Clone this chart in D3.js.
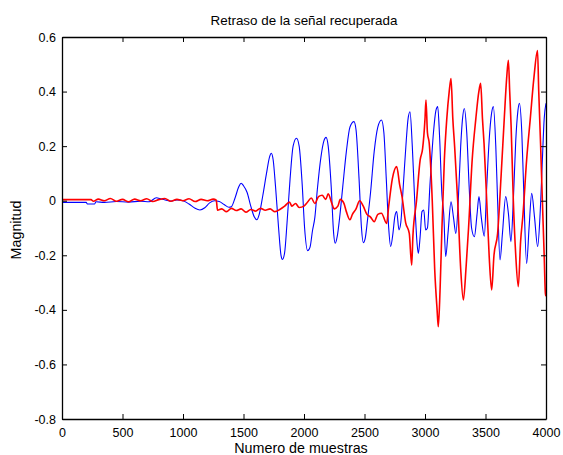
<!DOCTYPE html>
<html>
<head>
<meta charset="utf-8">
<script src="https://cdn.jsdelivr.net/npm/d3@7"></script>
<style>
  body { margin: 0; background: #fff; }
  text { font-family: Arial, "Liberation Sans", sans-serif; fill: #000; }
</style>
</head>
<body>
<div id="chart"></div>
<script>
const titleText = "Retraso de la señal recuperada";
const xLabel = "Numero de muestras";
const yLabel = "Magnitud";
const xTicks = [0, 500, 1000, 1500, 2000, 2500, 3000, 3500, 4000];
const yTicks = [-0.8, -0.6, -0.4, -0.2, 0, 0.2, 0.4, 0.6];

// blue signal (sample, value)
const blueX = [0,200,210,270,280,350,450,550,650,720,780,820,860,900,950,1000,1050,1100,1140,1180,1220,1260,1300,1340,1380,1400,1430,1460,1480,1500,1530,1560,1590,1610,1630,1660,1690,1715,1730,1745,1765,1790,1810,1822,1840,1860,1885,1910,1938,1960,1985,2005,2030,2050,2070,2090,2110,2140,2165,2182,2200,2225,2245,2258,2275,2295,2320,2350,2380,2413,2430,2455,2475,2490,2505,2525,2550,2580,2610,2640,2660,2680,2700,2716,2735,2750,2766,2785,2800,2820,2845,2860,2876,2895,2915,2935,2945,2960,2975,2990,3005,3020,3040,3070,3090,3105,3120,3140,3155,3171,3190,3215,3235,3255,3275,3295,3310,3325,3345,3365,3385,3408,3430,3446,3465,3490,3510,3530,3550,3565,3585,3600,3620,3640,3667,3690,3710,3730,3750,3768,3780,3800,3815,3840,3860,3882,3905,3931,3950,3970,3985,4000];
const blueY = [-0.006,-0.006,-0.012,-0.012,-0.004,-0.006,-0.003,-0.005,-0.002,-0.004,0.011,0.006,0.002,-0.001,0.003,0.0,-0.012,-0.028,-0.034,-0.026,-0.008,0.0,-0.003,-0.014,-0.024,-0.022,0.01,0.05,0.064,0.055,0.03,-0.02,-0.06,-0.07,-0.05,0.02,0.1,0.16,0.174,0.15,0.05,-0.1,-0.2,-0.215,-0.19,-0.08,0.08,0.2,0.229,0.2,0.06,-0.1,-0.183,-0.17,-0.11,-0.06,0.04,0.16,0.22,0.232,0.2,0.05,-0.12,-0.156,-0.13,-0.06,0.05,0.18,0.27,0.29,0.26,0.08,-0.1,-0.154,-0.14,-0.07,0.03,0.18,0.27,0.296,0.25,0.08,-0.1,-0.168,-0.12,-0.06,-0.04,-0.107,-0.08,0.05,0.22,0.3,0.326,0.2,0.0,-0.16,-0.193,-0.13,-0.04,-0.034,-0.107,-0.1,0.05,0.25,0.33,0.345,0.24,0.02,-0.05,-0.205,-0.12,-0.004,-0.06,-0.12,0.0,0.2,0.3,0.338,0.25,0.05,-0.1,-0.132,-0.05,0.015,-0.06,-0.13,0.05,0.22,0.32,0.345,0.2,0.0,-0.217,-0.12,0.015,-0.05,-0.15,0.0,0.22,0.33,0.357,0.25,0.05,-0.23,-0.1,0.027,-0.06,-0.168,-0.06,0.15,0.3,0.357];

// red signal (sample, value)
const redX = [0,240,260,300,350,400,450,500,550,600,650,700,750,800,850,900,950,1000,1050,1100,1150,1200,1250,1275,1285,1320,1360,1400,1440,1480,1520,1560,1600,1640,1680,1720,1760,1800,1840,1880,1900,1930,1960,2000,2030,2060,2090,2120,2150,2180,2200,2230,2250,2280,2300,2330,2350,2380,2400,2430,2460,2490,2520,2550,2580,2610,2640,2683,2700,2730,2766,2790,2810,2840,2870,2890,2900,2930,2960,2980,3000,3008,3020,3035,3060,3080,3100,3110,3125,3140,3160,3180,3200,3215,3230,3245,3270,3295,3317,3340,3360,3390,3420,3445,3460,3475,3488,3510,3530,3551,3570,3600,3630,3655,3675,3689,3700,3712,3730,3750,3771,3790,3810,3840,3870,3900,3930,3940,3955,3970,3985,3995,4000];
const redY = [0.004,0.004,-0.002,0.006,0.0,0.008,-0.002,0.005,-0.004,0.006,0.0,0.007,-0.003,0.004,0.008,-0.002,0.005,0.0,0.007,-0.003,0.005,0.0,0.006,0.002,-0.035,-0.03,-0.04,-0.028,-0.036,-0.03,-0.042,-0.032,-0.038,-0.028,-0.035,-0.03,-0.04,-0.032,-0.02,-0.005,-0.02,-0.01,-0.025,-0.02,-0.005,0.01,-0.01,0.015,0.02,0.005,0.025,-0.01,-0.03,-0.02,0.005,-0.01,-0.04,-0.07,-0.05,-0.03,0.0,-0.02,-0.05,-0.06,-0.077,-0.05,-0.046,-0.083,-0.02,0.08,0.125,0.06,0.015,-0.08,-0.12,-0.236,-0.13,0.0,0.15,0.19,0.3,0.369,0.25,0.21,0.0,-0.25,-0.4,-0.462,-0.32,-0.1,0.15,0.3,0.4,0.448,0.3,0.198,0.0,-0.25,-0.364,-0.24,-0.1,0.15,0.3,0.4,0.43,0.3,0.21,0.0,-0.2,-0.327,-0.2,-0.12,0.1,0.3,0.45,0.515,0.4,0.27,0.0,-0.2,-0.315,-0.15,-0.05,0.15,0.3,0.45,0.55,0.4,0.21,0.0,-0.2,-0.34,-0.35];

const W = 563, H = 455;
const m = { left: 62, right: 17, top: 37, bottom: 36 };
const iw = W - m.left - m.right, ih = H - m.top - m.bottom;

const svg = d3.select("#chart").append("svg")
  .attr("width", W).attr("height", H);

const x = d3.scaleLinear().domain([0, 4000]).range([m.left, m.left + iw]);
const y = d3.scaleLinear().domain([-0.8, 0.6]).range([m.top + ih, m.top]);

svg.append("clipPath").attr("id", "clip")
  .append("rect").attr("x", m.left).attr("y", m.top).attr("width", iw).attr("height", ih);

const line = d3.line().x(d => x(d[0])).y(d => y(d[1])).curve(d3.curveMonotoneX);

const plot = svg.append("g").attr("clip-path", "url(#clip)");
plot.append("path")
  .datum(blueX.map((v, i) => [v, blueY[i]]))
  .attr("d", line).attr("fill", "none").attr("stroke", "#0000ff").attr("stroke-width", 1.1);
plot.append("path")
  .datum(redX.map((v, i) => [v, redY[i]]))
  .attr("d", line).attr("fill", "none").attr("stroke", "#ff0000").attr("stroke-width", 1.6);

// axes, MATLAB style: inward ticks on all four sides
const fmtY = d => d === 0 ? "0" : d3.format(".1f")(d).replace("−", "-");
svg.append("g").attr("transform", `translate(0,${m.top + ih})`)
  .call(d3.axisBottom(x).tickValues(xTicks).tickSizeInner(-5).tickSizeOuter(0).tickPadding(9).tickFormat(d3.format("d")));
svg.append("g").attr("transform", `translate(0,${m.top})`)
  .call(d3.axisTop(x).tickValues(xTicks).tickSizeInner(-5).tickSizeOuter(0).tickFormat(""));
svg.append("g").attr("transform", `translate(${m.left},0)`)
  .call(d3.axisLeft(y).tickValues(yTicks).tickSizeInner(-5).tickSizeOuter(0).tickPadding(6).tickFormat(fmtY));
svg.append("g").attr("transform", `translate(${m.left + iw},0)`)
  .call(d3.axisRight(y).tickValues(yTicks).tickSizeInner(-5).tickSizeOuter(0).tickFormat(""));

svg.selectAll(".domain").attr("stroke", "#000").attr("stroke-width", 1.3);
svg.selectAll(".tick line").attr("stroke", "#000");
svg.selectAll(".tick text").attr("font-size", 12.5).attr("font-family", "Arial, 'Liberation Sans', sans-serif");

svg.append("text").attr("x", m.left + iw / 2).attr("y", 25)
  .attr("text-anchor", "middle").attr("font-size", 13.4).text(titleText);
svg.append("text").attr("x", m.left + iw / 2 - 3).attr("y", 453)
  .attr("text-anchor", "middle").attr("font-size", 14.3).text(xLabel);
svg.append("text").attr("transform", `translate(21,230) rotate(-90)`)
  .attr("text-anchor", "middle").attr("font-size", 14.3).text(yLabel);
</script>
</body>
</html>
